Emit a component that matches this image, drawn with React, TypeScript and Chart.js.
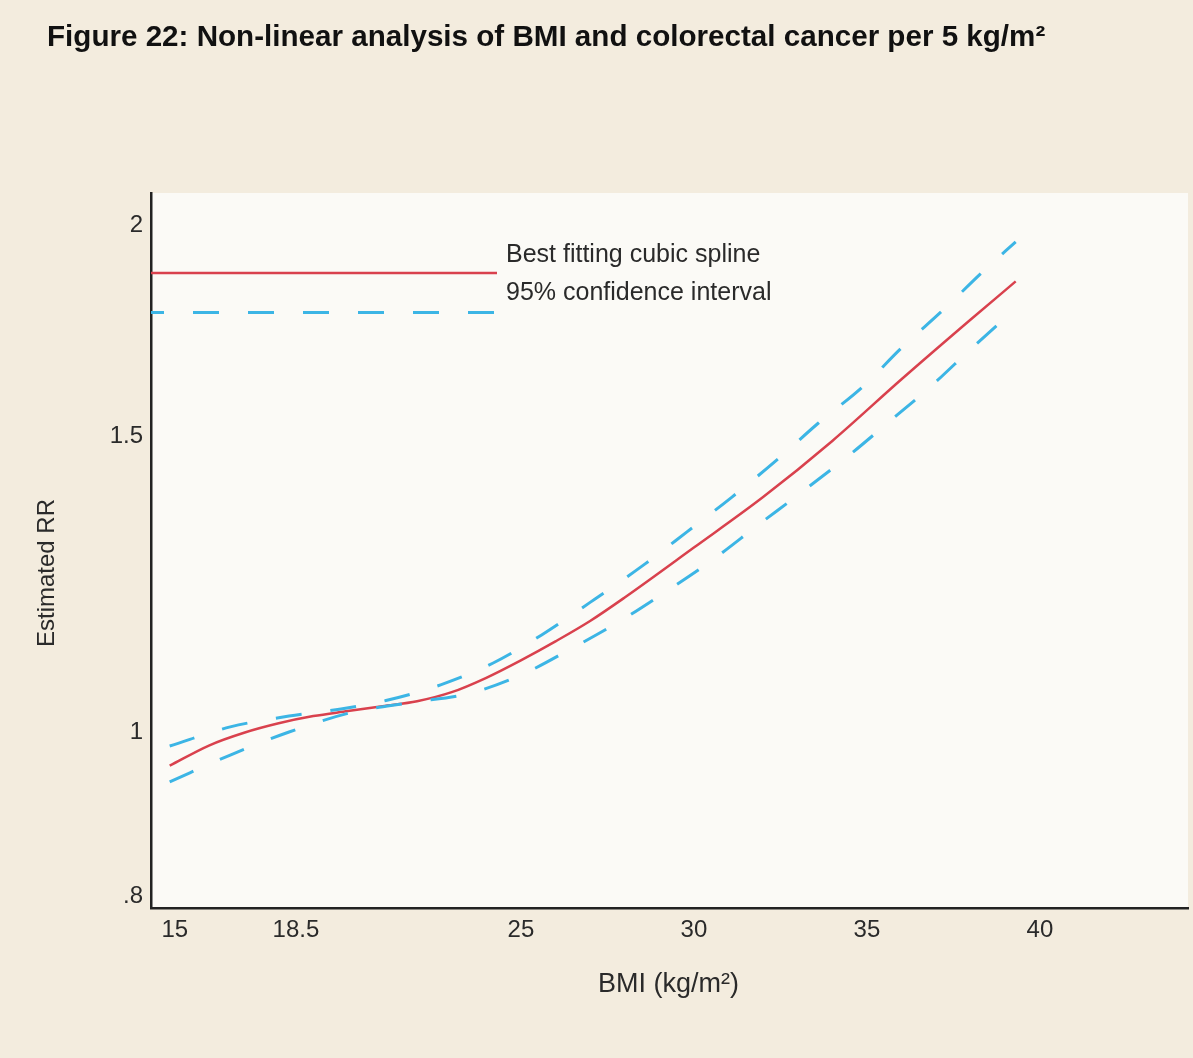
import React, { useEffect, useRef } from 'react';
import { Chart, registerables } from 'chart.js';

Chart.register(...registerables);

// ---- Text ----
const TITLE = 'Figure 22: Non-linear analysis of BMI and colorectal cancer per 5 kg/m²';
const X_TITLE = 'BMI (kg/m²)';
const Y_TITLE = 'Estimated RR';
const LEGEND_LABELS = ['Best fitting cubic spline', '95% confidence interval'];

// ---- Ticks ----
const xTickValues = [15, 18.5, 25, 30, 35, 40];
const yTickValues = [0.8, 1, 1.5, 2];
const yTickLabels = ['.8', '1', '1.5', '2'];

// ---- Data ----
const splineBmi = [14.85, 16, 17, 18, 19, 20, 21, 22, 23, 24, 25, 26, 27, 28, 30, 32, 34, 36, 38, 39.3];
const splineRR = [0.956, 0.983, 1.0, 1.013, 1.023, 1.03, 1.037, 1.044, 1.057, 1.078, 1.104, 1.133, 1.165, 1.203, 1.288, 1.38, 1.49, 1.621, 1.759, 1.853];

const upperBmi = [14.85, 16.6, 18.3, 19.8, 21.1, 22.7, 24.2, 25.6, 27.0, 28.6, 29.8, 31.1, 32.4, 33.6, 34.9, 36.0, 37.2, 38.4, 39.3];
const upperRR = [0.982, 1.008, 1.023, 1.033, 1.045, 1.068, 1.1, 1.143, 1.195, 1.26, 1.316, 1.38, 1.452, 1.527, 1.606, 1.692, 1.782, 1.882, 1.956];

const lowerBmi = [14.85, 16.6, 18.3, 20.1, 21.8, 23.5, 25.0, 26.5, 27.9, 29.25, 30.55, 31.85, 33.15, 34.45, 35.65, 36.9, 38.05, 39.3];
const lowerRR = [0.935, 0.97, 1.001, 1.028, 1.042, 1.055, 1.082, 1.123, 1.166, 1.215, 1.267, 1.328, 1.391, 1.459, 1.53, 1.609, 1.693, 1.785];

// ---- Axis ranges ----
const X_MIN = 14.31;
const X_MAX = 44.28;
const Y_MIN = 0.787;
const Y_MAX = 2.091;

// ---- Styles ----
const RED = '#d9414d';
const BLUE = '#3cb5e5';
const PAGE_BG = '#f3ecde';
const PLOT_BG = '#fbfaf6';
const TEXT = '#2a2a2a';
const AXIS = '#222222';
const FONT = '"Liberation Sans", Arial, sans-serif';

const decorPlugin = {
  id: 'decor',
  beforeDraw(chart: any) {
    const { ctx, chartArea: a, width, height } = chart;
    ctx.save();
    ctx.fillStyle = PAGE_BG;
    ctx.fillRect(0, 0, width, height);
    ctx.fillStyle = PLOT_BG;
    ctx.fillRect(a.left, a.top, a.right - a.left, a.bottom - a.top);
    ctx.restore();
  },
  afterDraw(chart: any) {
    const { ctx, chartArea: a } = chart;
    ctx.save();
    // Title
    ctx.fillStyle = '#111111';
    ctx.font = `bold 29.6px ${FONT}`;
    ctx.textAlign = 'left';
    ctx.textBaseline = 'middle';
    ctx.fillText(TITLE, 47, 38);

    // Legend lines
    const lx0 = a.left;
    const lx1 = a.left + 346;
    ctx.lineWidth = 2.5;
    ctx.strokeStyle = RED;
    ctx.beginPath();
    ctx.moveTo(lx0, a.top + 80);
    ctx.lineTo(lx1, a.top + 80);
    ctx.stroke();

    ctx.lineWidth = 3;
    ctx.strokeStyle = BLUE;
    ctx.setLineDash([26, 29]);
    ctx.lineDashOffset = 13;
    ctx.beginPath();
    ctx.moveTo(lx0, a.top + 119.5);
    ctx.lineTo(lx1, a.top + 119.5);
    ctx.stroke();
    ctx.setLineDash([]);

    // Legend text
    ctx.fillStyle = TEXT;
    ctx.font = `25px ${FONT}`;
    ctx.fillText(LEGEND_LABELS[0], a.left + 355, a.top + 62);
    ctx.fillText(LEGEND_LABELS[1], a.left + 355, a.top + 100);

    // X axis title
    ctx.textAlign = 'center';
    ctx.font = `27px ${FONT}`;
    ctx.fillText(X_TITLE, (a.left + a.right) / 2 - 1, a.bottom + 77);

    // Y axis title
    ctx.font = `24px ${FONT}`;
    ctx.translate(47, 573);
    ctx.rotate(-Math.PI / 2);
    ctx.fillText(Y_TITLE, 0, 0);
    ctx.restore();
  },
};

function toPoints(xs: number[], ys: number[]) {
  return xs.map((x, i) => ({ x, y: ys[i] }));
}

export default function App() {
  const canvasRef = useRef<HTMLCanvasElement | null>(null);

  useEffect(() => {
    document.body.style.margin = '0';
    const canvas = canvasRef.current;
    if (!canvas) return;
    const chart = new Chart(canvas, {
      type: 'line',
      data: {
        datasets: [
          {
            label: LEGEND_LABELS[1] + ' (upper)',
            data: toPoints(upperBmi, upperRR),
            borderColor: BLUE,
            borderWidth: 3,
            borderDash: [26, 29],
            pointRadius: 0,
            fill: false,
            cubicInterpolationMode: 'monotone',
          },
          {
            label: LEGEND_LABELS[1] + ' (lower)',
            data: toPoints(lowerBmi, lowerRR),
            borderColor: BLUE,
            borderWidth: 3,
            borderDash: [26, 29],
            pointRadius: 0,
            fill: false,
            cubicInterpolationMode: 'monotone',
          },
          {
            label: LEGEND_LABELS[0],
            data: toPoints(splineBmi, splineRR),
            borderColor: RED,
            borderWidth: 2.5,
            pointRadius: 0,
            fill: false,
            cubicInterpolationMode: 'monotone',
          },
        ],
      },
      options: {
        responsive: false,
        animation: false,
        devicePixelRatio: 1,
        layout: { padding: { top: 193, right: 5, left: 0, bottom: 0 } },
        plugins: {
          legend: { display: false },
          title: { display: false },
          tooltip: { enabled: false },
        },
        scales: {
          x: {
            type: 'linear',
            min: X_MIN,
            max: X_MAX,
            afterFit: (s: any) => {
              s.height = 150;
            },
            afterBuildTicks: (s: any) => {
              s.ticks = xTickValues.map((v) => ({ value: v }));
            },
            grid: { display: false, drawTicks: false, tickLength: 0 },
            border: { display: true, color: AXIS, width: 2.5 },
            ticks: {
              padding: 8,
              autoSkip: false,
              maxRotation: 0,
              color: TEXT,
              font: { family: FONT, size: 24 },
              callback: (v: any) => String(v),
            },
          },
          y: {
            type: 'logarithmic',
            min: Y_MIN,
            max: Y_MAX,
            afterFit: (s: any) => {
              s.width = 151;
            },
            afterBuildTicks: (s: any) => {
              s.ticks = yTickValues.map((v) => ({ value: v }));
            },
            grid: { display: false, drawTicks: false, tickLength: 0 },
            border: { display: true, color: AXIS, width: 2.5 },
            ticks: {
              padding: 8,
              autoSkip: false,
              color: TEXT,
              font: { family: FONT, size: 24 },
              callback: (_v: any, i: number) => yTickLabels[i],
            },
          },
        },
      },
      plugins: [decorPlugin],
    } as any);
    return () => chart.destroy();
  }, []);

  return (
    <div style={{ width: 1193, height: 1058, background: PAGE_BG }}>
      <canvas ref={canvasRef} width={1193} height={1058} style={{ width: 1193, height: 1058, display: 'block' }} />
    </div>
  );
}
